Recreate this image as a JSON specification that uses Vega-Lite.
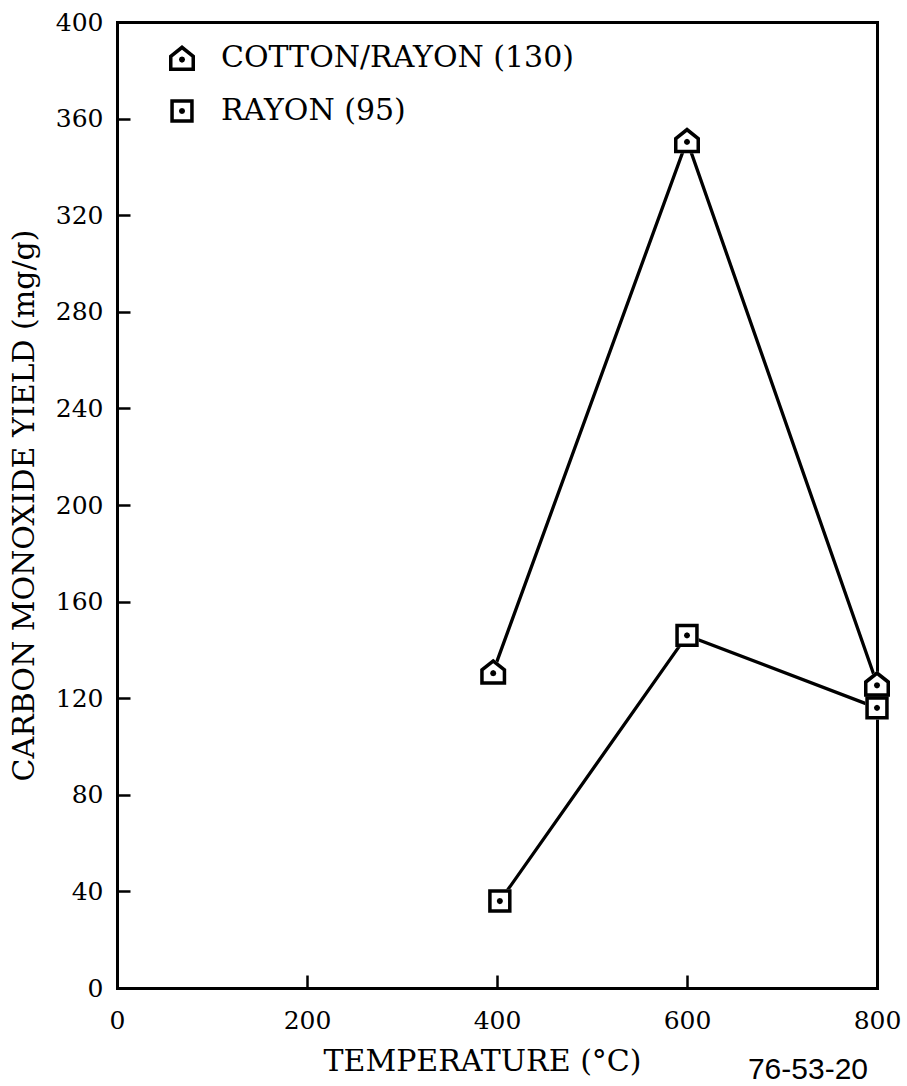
{
  "$schema": "https://vega.github.io/schema/vega-lite/v6.json",
  "autosize": {"type": "none"},
  "padding": {"left": 117, "top": 22, "right": 30, "bottom": 98},
  "width": 760,
  "height": 966,
  "background": "white",
  "title": {
    "text": "76-53-20",
    "orient": "bottom",
    "anchor": "end",
    "frame": "group",
    "font": "Liberation Sans",
    "fontSize": 30,
    "fontWeight": "normal",
    "color": "black",
    "baseline": "alphabetic",
    "offset": 3,
    "dx": -9
  },
  "data": {
    "values": [
      {"series": "COTTON/RAYON (130)", "temp": 396, "co": 131},
      {"series": "COTTON/RAYON (130)", "temp": 600, "co": 351},
      {"series": "COTTON/RAYON (130)", "temp": 800, "co": 126},
      {"series": "RAYON (95)", "temp": 403, "co": 36},
      {"series": "RAYON (95)", "temp": 600, "co": 146},
      {"series": "RAYON (95)", "temp": 800, "co": 116}
    ]
  },
  "config": {
    "view": {"stroke": null},
    "font": "DejaVu Serif",
    "axis": {
      "grid": false,
      "domain": true,
      "domainColor": "black",
      "domainWidth": 3,
      "domainCap": "square",
      "tickColor": "black",
      "tickWidth": 2.5,
      "labelFont": "DejaVu Serif",
      "labelFontSize": 25,
      "labelColor": "black",
      "titleFont": "DejaVu Serif",
      "titleFontSize": 30,
      "titleFontWeight": "normal",
      "titleColor": "black",
      "zindex": 1
    },
    "legend": {
      "labelFont": "DejaVu Serif",
      "labelFontSize": 30,
      "labelColor": "black",
      "labelLimit": 0
    }
  },
  "layer": [
    {
      "mark": {"type": "line", "color": "black", "strokeWidth": 3.3},
      "encoding": {
        "x": {
          "field": "temp", "type": "quantitative",
          "scale": {"domain": [0, 800], "nice": false, "zero": true},
          "axis": {
            "orient": "bottom",
            "values": [0, 200, 400, 600, 800],
            "title": "TEMPERATURE (°C)",
            "ticks": false,
            "labelFontSize": 25,
            "labelBaseline": "alphabetic",
            "labelPadding": 40,
            "labelFlush": false,
            "labelOverlap": false,
            "titleX": 365,
            "titleY": 82,
            "titleBaseline": "alphabetic",
            "titleAlign": "center",
            "titleAnchor": null
          }
        },
        "y": {
          "field": "co", "type": "quantitative",
          "scale": {"domain": [0, 400], "nice": false},
          "axis": {
            "orient": "left",
            "values": [0, 40, 80, 120, 160, 200, 240, 280, 320, 360, 400],
            "title": "CARBON MONOXIDE YIELD (mg/g)",
            "ticks": false,
            "labelFontSize": 25,
            "labelPadding": 14,
            "labelFlush": false,
            "labelOverlap": false,
            "titleAngle": 270,
            "titleX": -84,
            "titleY": 483,
            "titleBaseline": "alphabetic",
            "titleAlign": "center",
            "titleAnchor": null
          }
        },
        "detail": {"field": "series"}
      }
    },
    {
      "mark": {"type": "point", "filled": true, "color": "white", "strokeWidth": 0, "size": 676, "opacity": 1},
      "encoding": {
        "x": {
          "field": "temp", "type": "quantitative",
          "axis": {"orient": "top", "labels": false, "ticks": false, "title": null, "domain": true}
        },
        "y": {
          "field": "co", "type": "quantitative",
          "axis": {"orient": "right", "labels": false, "ticks": false, "title": null, "domain": true}
        },
        "shape": {
          "field": "series", "type": "nominal",
          "scale": {
            "domain": ["COTTON/RAYON (130)", "RAYON (95)"],
            "range": ["M-1 1L-1 -0.2L0 -1L1 -0.2L1 1Z", "M-0.9 -0.9L0.9 -0.9L0.9 0.9L-0.9 0.9Z"]
          },
          "legend": null
        }
      }
    },
    {
      "mark": {"type": "point", "filled": true, "color": "black", "strokeWidth": 0, "size": 676, "opacity": 1},
      "encoding": {
        "x": {
          "field": "temp", "type": "quantitative",
          "axis": {"orient": "top", "offset": -966, "values": [200, 400, 600], "labels": false, "ticks": true, "tickSize": 13, "tickWidth": 2.5, "title": null, "domain": false}
        },
        "y": {
          "field": "co", "type": "quantitative",
          "axis": {"orient": "right", "offset": -760, "values": [40, 80, 120, 160, 200, 240, 280, 320, 360], "labels": false, "ticks": true, "tickSize": 13, "tickWidth": 2.5, "title": null, "domain": false}
        },
        "shape": {
          "field": "series", "type": "nominal",
          "scale": {
            "domain": ["COTTON/RAYON (130)", "RAYON (95)"],
            "range": [
              "M-1 1L-1 -0.2L0 -1L1 -0.2L1 1Z M-0.73 0.73L0.73 0.73L0.73 -0.06L0 -0.64L-0.73 -0.06Z M0.24 0.12L0.17 0.29L0 0.36L-0.17 0.29L-0.24 0.12L-0.17 -0.05L0 -0.12L0.17 -0.05Z",
              "M-0.9 -0.9L0.9 -0.9L0.9 0.9L-0.9 0.9Z M-0.63 -0.63L-0.63 0.63L0.63 0.63L0.63 -0.63Z M0.24 0L0.17 0.17L0 0.24L-0.17 0.17L-0.24 0L-0.17 -0.17L0 -0.24L0.17 -0.17Z"
            ]
          },
          "legend": {
            "orient": "none",
            "legendX": 50,
            "legendY": 21,
            "title": null,
            "padding": 0,
            "symbolSize": 676,
            "symbolStrokeWidth": 0,
            "symbolFillColor": "black",
            "symbolOpacity": 1,
            "labelOffset": 24,
            "labelLimit": 0,
            "rowPadding": 23,
            "labelBaseline": "middle"
          }
        }
      }
    }
  ],
  "resolve": {
    "scale": {"shape": "independent"},
    "axis": {"x": "independent", "y": "independent"}
  }
}
